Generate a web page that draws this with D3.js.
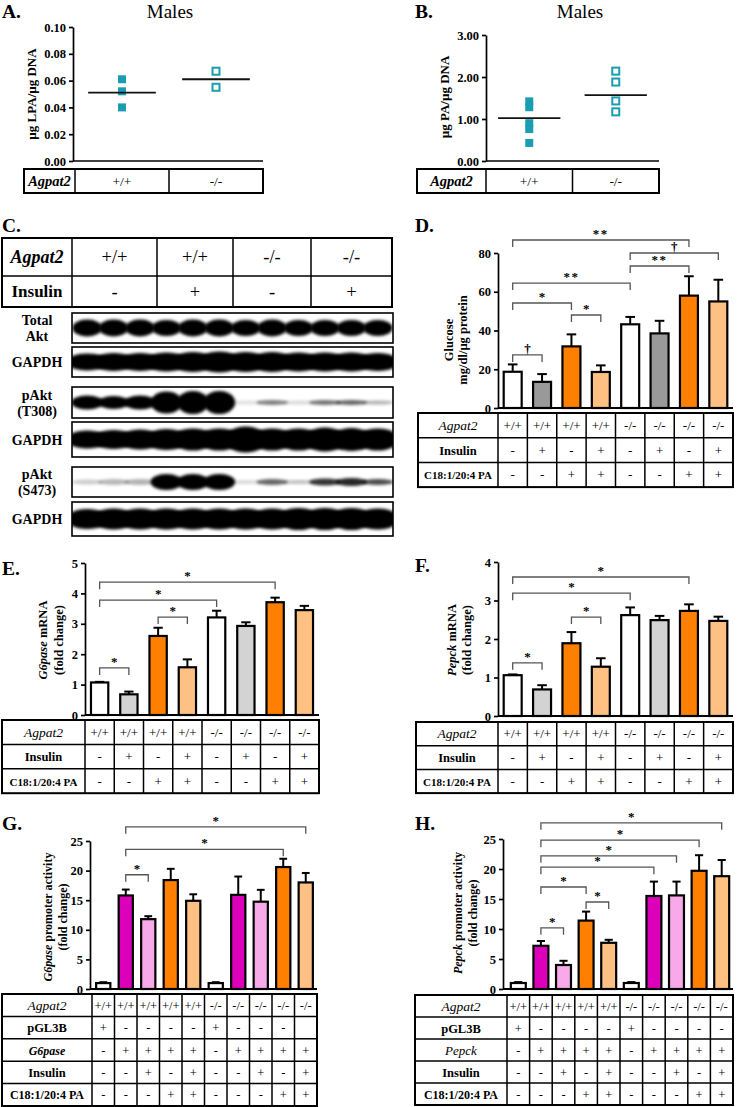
<!DOCTYPE html>
<html>
<head>
<meta charset="utf-8">
<script src="https://cdn.jsdelivr.net/npm/d3@7"></script>
<style>
  body { margin: 0; background: #fff; }
  text { font-family: "Liberation Serif", "Times New Roman", serif; fill: #000; }
</style>
</head>
<body>
<script>
// ---- data: A / B (males, lipid per DNA)
const genotypes = ["+/+", "-/-"];
const lpaWT = [0.061, 0.052, 0.040];
const lpaKO = [0.067, 0.055];
const lpaMean = [0.051, 0.061];
const paWT = [1.42, 1.28, 0.90, 0.76, 0.43];
const paKO = [2.14, 1.88, 1.43, 1.17];
const paMean = [1.02, 1.57];

// ---- data: C (western blot band intensity 0-1 and band thickness, 12 lanes)
const blotGroups = ["+/+", "+/+", "-/-", "-/-"];
const blotInsulin = ["-", "+", "-", "+"];
const totalAkt = [1, 1, 1, 1, 1, 1, 1, 1, 1, 1, 1, 1];
const totalAktH = [17, 17, 17, 16, 17, 17, 16, 17, 16, 16, 16, 16];
const gapdh1 = [1, 1, 1, 1, 1, 1, 1, 1, 1, 1, 1, 1];
const gapdh1H = [17, 18, 18, 19, 20, 21, 20, 20, 19, 19, 19, 18];
const pAktT308 = [1, 1, 1, 1, 1, 1, 0.12, 0.5, 0.15, 0.55, 0.6, 0.3];
const pAktT308H = [14, 13, 14, 22, 23, 23, 4, 5, 4, 5, 5, 4];
const gapdh2 = [1, 1, 1, 1, 1, 1, 1, 1, 1, 1, 1, 1];
const gapdh2H = [18, 19, 20, 21, 22, 22, 26, 22, 22, 24, 23, 22];
const pAktS473 = [0.2, 0.28, 0.3, 1, 1, 1, 0.15, 0.6, 0.25, 0.8, 0.85, 0.7];
const pAktS473H = [5, 6, 6, 16, 16, 16, 4, 6, 4, 7, 8, 6];
const gapdh3 = [1, 1, 1, 1, 1, 1, 1, 1, 1, 1, 1, 1];
const gapdh3H = [20, 21, 21, 21, 21, 21, 21, 21, 22, 22, 22, 21];

// ---- data: D / E / F (8 groups)
const genotype8 = ["+/+", "+/+", "+/+", "+/+", "-/-", "-/-", "-/-", "-/-"];
const insulin8 = ["-", "+", "-", "+", "-", "+", "-", "+"];
const pa8 = ["-", "-", "+", "+", "-", "-", "+", "+"];
const glucose = [18.7, 13.5, 31.8, 18.6, 43.2, 38.5, 58.0, 55.0];
const glucoseSem = [3.8, 4.0, 6.2, 3.4, 3.8, 6.5, 10.0, 11.2];
const g6paseMrna = [1.07, 0.68, 2.60, 1.57, 3.21, 2.93, 3.71, 3.45];
const g6paseMrnaSem = [0.02, 0.09, 0.27, 0.26, 0.22, 0.12, 0.15, 0.14];
const pepckMrna = [1.06, 0.69, 1.89, 1.28, 2.62, 2.49, 2.73, 2.47];
const pepckMrnaSem = [0.02, 0.11, 0.29, 0.22, 0.20, 0.11, 0.17, 0.11];

// ---- data: G / H (10 groups)
const genotype10 = ["+/+", "+/+", "+/+", "+/+", "+/+", "-/-", "-/-", "-/-", "-/-", "-/-"];
const pgl3bG = ["+", "-", "-", "-", "-", "+", "-", "-", "-", ""];
const pgl3bH = ["+", "-", "-", "-", "-", "+", "-", "-", "-", "-"];
const promoter10 = ["-", "+", "+", "+", "+", "-", "+", "+", "+", "+"];
const insulin10 = ["-", "-", "+", "-", "+", "-", "-", "+", "-", "+"];
const pa10 = ["-", "-", "-", "+", "+", "-", "-", "-", "+", "+"];
const g6pasePromoter = [1.0, 15.8, 11.8, 18.4, 14.9, 1.0, 15.9, 14.75, 20.6, 18.0];
const g6pasePromoterSem = [0.15, 1.0, 0.5, 1.9, 1.1, 0.15, 3.1, 2.0, 1.4, 1.6];
const pepckPromoter = [1.0, 7.2, 4.0, 11.4, 7.7, 1.0, 15.5, 15.6, 19.7, 18.8];
const pepckPromoterSem = [0.15, 0.8, 0.7, 1.5, 0.5, 0.15, 2.4, 2.3, 2.6, 2.7];

// significance brackets: [from, to, level (data units), label]
const bracketsD = [[0, 6, 86.7, "**"], [4, 7, 80, "†"], [4, 6, 73.3, "**"], [0, 4, 64.5, "**"],
                   [0, 2, 54.2, "*"], [2, 3, 48, "*"], [0, 1, 27.4, "†"]];
const bracketsE = [[0, 6, 4.37, "*"], [0, 4, 3.78, "*"], [2, 3, 3.22, "*"], [0, 1, 1.55, "*"]];
const bracketsF = [[0, 6, 3.61, "*"], [0, 4, 3.19, "*"], [2, 3, 2.57, "*"], [0, 1, 1.38, "*"]];
const bracketsG = [[1, 9, 27.4, "*"], [1, 8, 23.6, "*"], [1, 2, 19.3, "*"]];
const bracketsH = [[1, 9, 27.7, "*"], [1, 8, 24.8, "*"], [1, 7, 22.2, "*"], [1, 6, 20.3, "*"],
                   [1, 3, 17, "*"], [3, 4, 14.5, "*"], [1, 2, 10.2, "*"]];

const teal = "#1b9db1";
const orange = "#ff8000", lightOrange = "#ffc183";
const magenta = "#dc00ba", pink = "#f8a9e9";
const fillsD = ["#fff", "#999", orange, lightOrange, "#fff", "#999", orange, lightOrange];
const fillsEF = ["#fff", "#d3d3d3", orange, lightOrange, "#fff", "#d3d3d3", orange, lightOrange];
const fillsGH = ["#fff", magenta, pink, orange, lightOrange, "#fff", magenta, pink, orange, lightOrange];

const svg = d3.select("body").append("svg")
    .attr("width", 737)
    .attr("height", 1107);

svg.append("defs").append("filter")
    .attr("id", "blur")
    .attr("x", "-20%").attr("y", "-50%").attr("width", "140%").attr("height", "200%")
  .append("feGaussianBlur")
    .attr("stdDeviation", 1.6);

function letter(txt, x, y) {
  svg.append("text").attr("x", x).attr("y", y)
    .attr("font-size", 19.5).attr("font-weight", "bold").text(txt);
}

// rotated axis title; lines = [[[text, italic], ...], ...]
function yTitle(x, y, lines, size, gap) {
  const t = svg.append("text")
    .attr("transform", `translate(${x},${y}) rotate(-90)`)
    .attr("text-anchor", "middle")
    .attr("font-size", size).attr("font-weight", "bold");
  lines.forEach((parts, li) => {
    parts.forEach((p, pi) => {
      const s = t.append("tspan").text(p[0]);
      if (pi === 0) s.attr("x", 0).attr("dy", li === 0 ? 0 : gap);
      if (p[1]) s.attr("font-style", "italic");
    });
  });
}

function styleAxis(ax) {
  ax.select(".domain").attr("stroke-width", 1.7);
  ax.selectAll(".tick line").attr("stroke-width", 1.7);
  ax.selectAll(".tick text")
    .attr("font-family", "Liberation Serif, serif")
    .attr("font-size", 12.5).attr("font-weight", "bold").attr("fill", "#000");
}

// condition table: label column, then one column per group
function table(cfg, xCols, rows) {
  const g = svg.append("g");
  const right = xCols.range()[1];
  const h = cfg.rowH * rows.length;
  g.append("rect")
    .attr("x", cfg.left).attr("y", cfg.top)
    .attr("width", right - cfg.left).attr("height", h)
    .attr("fill", "none").attr("stroke", "#000").attr("stroke-width", 2);
  rows.forEach((r, i) => {
    if (i > 0) g.append("line")
      .attr("x1", cfg.left).attr("x2", right)
      .attr("y1", cfg.top + i * cfg.rowH).attr("y2", cfg.top + i * cfg.rowH)
      .attr("stroke", "#000").attr("stroke-width", 1.5);
    const cy = cfg.top + (i + 0.5) * cfg.rowH;
    g.append("text")
      .attr("x", (cfg.left + xCols.range()[0]) / 2).attr("y", cy + 4.5)
      .attr("text-anchor", "middle")
      .attr("font-size", r.size || 12.5)
      .attr("font-style", r.italic ? "italic" : null)
      .attr("font-weight", r.bold ? "bold" : null)
      .text(r.label);
    g.selectAll(null).data(r.values).enter().append("text")
      .attr("x", (d, j) => xCols(xCols.domain()[j]) + xCols.bandwidth() / 2)
      .attr("y", cy + 4.5)
      .attr("text-anchor", "middle")
      .attr("font-size", cfg.valueSize || 13)
      .text(d => d);
  });
  g.selectAll(null).data([xCols.range()[0]].concat(xCols.domain().slice(1).map(d => xCols(d))))
    .enter().append("line")
      .attr("x1", d => d).attr("x2", d => d)
      .attr("y1", cfg.top).attr("y2", cfg.top + h)
      .attr("stroke", "#000").attr("stroke-width", 1.5);
}

// ---------- A / B: dot plots ----------
function dotPanel(cfg) {
  const y = d3.scaleLinear().domain([0, cfg.max]).range([cfg.yBottom, cfg.yTop]);
  const xCols = d3.scaleBand().domain(genotypes).range([cfg.x0, cfg.x1]);
  const ax = svg.append("g").attr("transform", `translate(${cfg.axisX},0)`)
    .call(d3.axisLeft(y).tickValues(cfg.ticks).tickFormat(d3.format(".2f")).tickSize(4).tickSizeOuter(0));
  styleAxis(ax);
  svg.append("line")
    .attr("x1", cfg.axisX).attr("x2", cfg.x1)
    .attr("y1", cfg.yBottom).attr("y2", cfg.yBottom)
    .attr("stroke", "#000").attr("stroke-width", 1.7);

  const cx = g => xCols(g) + xCols.bandwidth() / 2;
  svg.selectAll(null).data(cfg.wt).enter().append("rect")
    .attr("x", cx("+/+") - 4).attr("y", d => y(d) - 4)
    .attr("width", 8).attr("height", 8)
    .attr("fill", teal);
  svg.selectAll(null).data(cfg.ko).enter().append("rect")
    .attr("x", cx("-/-") - 3.5).attr("y", d => y(d) - 3.5)
    .attr("width", 7).attr("height", 7)
    .attr("fill", "#fff").attr("stroke", teal).attr("stroke-width", 2);
  svg.selectAll(null).data(cfg.mean).enter().append("line")
    .attr("x1", (d, i) => cx(genotypes[i]) - xCols.bandwidth() * 0.36)
    .attr("x2", (d, i) => cx(genotypes[i]) + xCols.bandwidth() * 0.36)
    .attr("y1", d => y(d)).attr("y2", d => y(d))
    .attr("stroke", "#111").attr("stroke-width", 1.8);

  svg.append("text").attr("x", cfg.titleX).attr("y", 18)
    .attr("text-anchor", "middle").attr("font-size", 19).text("Males");
  yTitle(cfg.labelX, cfg.labelY, [[[cfg.label, false]]], 13, 0);
  table({ left: cfg.tableLeft, top: 169, rowH: 24, valueSize: 13.5 }, xCols,
        [{ label: "Agpat2", italic: true, bold: true, size: 14.5, values: genotypes }]);
}

letter("A.", 2, 17.5);
dotPanel({ max: 0.10, ticks: d3.range(0, 0.101, 0.02), yTop: 27, yBottom: 161, axisX: 73,
           x0: 75, x1: 263, tableLeft: 24, wt: lpaWT, ko: lpaKO, mean: lpaMean,
           titleX: 170, label: "µg LPA/µg DNA", labelX: 36, labelY: 94 });
letter("B.", 415, 18);
dotPanel({ max: 3, ticks: [0, 1, 2, 3], yTop: 35, yBottom: 161, axisX: 486,
           x0: 486, x1: 659, tableLeft: 417, wt: paWT, ko: paKO, mean: paMean,
           titleX: 580, label: "µg PA/µg DNA", labelX: 449, labelY: 97 });

// ---------- C: western blot ----------
letter("C.", 2, 232);
(function () {
  const top = 238, rowH = [38, 31];
  const colX = [72, 157, 233, 311, 392];
  const g = svg.append("g");
  g.append("rect").attr("x", 2).attr("y", top).attr("width", 390).attr("height", rowH[0] + rowH[1])
    .attr("fill", "none").attr("stroke", "#000").attr("stroke-width", 2);
  g.append("line").attr("x1", 2).attr("x2", 392).attr("y1", top + rowH[0]).attr("y2", top + rowH[0])
    .attr("stroke", "#000").attr("stroke-width", 1.5);
  g.selectAll(null).data(colX.slice(0, 4)).enter().append("line")
    .attr("x1", d => d).attr("x2", d => d).attr("y1", top).attr("y2", top + rowH[0] + rowH[1])
    .attr("stroke", "#000").attr("stroke-width", 1.5);
  g.append("text").attr("x", 37).attr("y", top + 25).attr("text-anchor", "middle")
    .attr("font-size", 18).attr("font-weight", "bold").attr("font-style", "italic").text("Agpat2");
  g.append("text").attr("x", 37).attr("y", top + rowH[0] + 21).attr("text-anchor", "middle")
    .attr("font-size", 17).attr("font-weight", "bold").text("Insulin");
  g.selectAll(null).data(blotGroups).enter().append("text")
    .attr("x", (d, i) => (colX[i] + colX[i + 1]) / 2).attr("y", top + 25)
    .attr("text-anchor", "middle").attr("font-size", 18.5).text(d => d);
  g.selectAll(null).data(blotInsulin).enter().append("text")
    .attr("x", (d, i) => (colX[i] + colX[i + 1]) / 2).attr("y", top + rowH[0] + 22)
    .attr("text-anchor", "middle").attr("font-size", 18.5).text(d => d);

  const xLane = d3.scaleBand().domain(d3.range(12)).range([74, 391]);
  const blots = [
    { label: ["Total", "Akt"], y0: 313, y1: 343, v: totalAkt, h: totalAktH, spread: 0.56 },
    { label: ["GAPDH"], y0: 347, y1: 377, v: gapdh1, h: gapdh1H, spread: 0.8 },
    { label: ["pAkt", "(T308)"], y0: 387, y1: 418, v: pAktT308, h: pAktT308H, spread: 0.6 },
    { label: ["GAPDH"], y0: 422, y1: 457, v: gapdh2, h: gapdh2H, spread: 0.8 },
    { label: ["pAkt", "(S473)"], y0: 467, y1: 497, v: pAktS473, h: pAktS473H, spread: 0.6 },
    { label: ["GAPDH"], y0: 502, y1: 536, v: gapdh3, h: gapdh3H, spread: 0.8 }
  ];
  blots.forEach((b, bi) => {
    const cy = (b.y0 + b.y1) / 2;
    const clipId = "clip" + bi;
    svg.append("clipPath").attr("id", clipId).append("rect")
      .attr("x", 72).attr("y", b.y0).attr("width", 321).attr("height", b.y1 - b.y0);
    const bg = svg.append("g").attr("clip-path", `url(#${clipId})`);
    bg.selectAll(null).data(b.v).enter().append("ellipse")
      .attr("cx", (d, i) => xLane(i) + xLane.bandwidth() / 2)
      .attr("cy", cy)
      .attr("rx", xLane.bandwidth() * b.spread)
      .attr("ry", (d, i) => b.h[i] / 2)
      .attr("fill", "#000")
      .attr("fill-opacity", d => d)
      .attr("filter", "url(#blur)");
    svg.append("rect").attr("x", 72).attr("y", b.y0).attr("width", 321).attr("height", b.y1 - b.y0)
      .attr("fill", "none").attr("stroke", "#000").attr("stroke-width", 1.6);
    const t = svg.append("text").attr("text-anchor", "middle")
      .attr("font-size", 14).attr("font-weight", "bold");
    b.label.forEach((l, li) => {
      t.append("tspan").attr("x", 37)
        .attr("y", cy + 5 + (b.label.length === 1 ? 0 : (li === 0 ? -8 : 8)))
        .text(l);
    });
  });
})();

// ---------- D-H: bar charts ----------
function barPanel(cfg) {
  const n = cfg.values.length;
  const idx = d3.range(n);
  const xCols = d3.scaleBand().domain(idx).range([cfg.x0, cfg.x1]);
  const xBars = d3.scaleBand().domain(idx).range([cfg.x0, cfg.x1])
    .paddingInner(cfg.pad).paddingOuter(cfg.pad / 2);
  const y = d3.scaleLinear().domain([0, cfg.max]).range([cfg.yBottom, cfg.yTop]);
  const cx = i => xBars(i) + xBars.bandwidth() / 2;

  const ax = svg.append("g").attr("transform", `translate(${cfg.axisX},0)`)
    .call(d3.axisLeft(y).tickValues(cfg.ticks).tickFormat(d3.format("d")).tickSize(4).tickSizeOuter(0));
  styleAxis(ax);

  // error bars (upper only)
  const eb = svg.append("g").attr("stroke", "#000").attr("stroke-width", 2);
  eb.selectAll(null).data(cfg.values).enter().append("line")
    .attr("x1", (d, i) => cx(i)).attr("x2", (d, i) => cx(i))
    .attr("y1", d => y(d)).attr("y2", (d, i) => y(d + cfg.sem[i]));
  eb.selectAll(null).data(cfg.values).enter().append("line")
    .attr("x1", (d, i) => cx(i) - xBars.bandwidth() * 0.24)
    .attr("x2", (d, i) => cx(i) + xBars.bandwidth() * 0.24)
    .attr("y1", (d, i) => y(d + cfg.sem[i])).attr("y2", (d, i) => y(d + cfg.sem[i]));

  svg.selectAll(null).data(cfg.values).enter().append("rect")
    .attr("x", (d, i) => xBars(i) + 1)
    .attr("y", d => y(d))
    .attr("width", xBars.bandwidth() - 2)
    .attr("height", d => cfg.yBottom - y(d))
    .attr("fill", (d, i) => cfg.fills[i])
    .attr("stroke", "#000").attr("stroke-width", 2.2);

  svg.append("line")
    .attr("x1", cfg.axisX).attr("x2", cfg.x1)
    .attr("y1", cfg.yBottom).attr("y2", cfg.yBottom)
    .attr("stroke", "#000").attr("stroke-width", 1.8);

  // significance brackets
  const br = svg.append("g");
  cfg.brackets.forEach(([a, b, lvl, lab]) => {
    const yy = y(lvl);
    br.append("path")
      .attr("d", `M${cx(a)},${yy + 7}V${yy}H${cx(b)}V${yy + 7}`)
      .attr("fill", "none").attr("stroke", "#555").attr("stroke-width", 1.3);
    br.append("text")
      .attr("x", (cx(a) + cx(b)) / 2).attr("y", yy - 2)
      .attr("text-anchor", "middle").attr("font-size", 13)
      .attr("letter-spacing", lab === "**" ? 1.5 : null)
      .attr("font-weight", "bold")
      .text(lab);
  });

  yTitle(cfg.labelX, cfg.labelY, cfg.label, cfg.labelSize || 12.5, cfg.labelGap || 15);
  table(cfg.table, xCols, cfg.rows);
}

const rows8 = [
  { label: "Agpat2", italic: true, size: 13.5, values: genotype8 },
  { label: "Insulin", bold: true, values: insulin8 },
  { label: "C18:1/20:4 PA", bold: true, size: 11, values: pa8 }
];

letter("D.", 415, 232);
barPanel({ values: glucose, sem: glucoseSem, fills: fillsD, brackets: bracketsD,
           max: 80, ticks: [0, 20, 40, 60, 80], axisX: 498, x0: 498, x1: 733, yTop: 253, yBottom: 408, pad: 0.32,
           label: [[["Glucose", false]], [["mg/dl/µg protein", false]]], labelX: 453, labelY: 340, labelGap: 13.5,
           table: { left: 418, top: 413, rowH: 24.7 }, rows: rows8 });

letter("E.", 2, 575);
barPanel({ values: g6paseMrna, sem: g6paseMrnaSem, fills: fillsEF, brackets: bracketsE,
           max: 5, ticks: [0, 1, 2, 3, 4, 5], axisX: 85, x0: 85, x1: 319, yTop: 563, yBottom: 715, pad: 0.34,
           label: [[["G6pase", true], [" mRNA", false]], [["(fold change)", false]]], labelX: 47, labelY: 640, labelGap: 16,
           table: { left: 2, top: 720, rowH: 24.4 }, rows: rows8 });

letter("F.", 415, 572);
barPanel({ values: pepckMrna, sem: pepckMrnaSem, fills: fillsEF, brackets: bracketsF,
           max: 4, ticks: [0, 1, 2, 3, 4], axisX: 498, x0: 498, x1: 733, yTop: 562, yBottom: 716, pad: 0.32,
           label: [[["Pepck", true], [" mRNA", false]], [["(fold change)", false]]], labelX: 456, labelY: 640,
           table: { left: 416, top: 722, rowH: 23.7 }, rows: rows8 });

letter("G.", 2, 830);
barPanel({ values: g6pasePromoter, sem: g6pasePromoterSem, fills: fillsGH, brackets: bracketsG,
           max: 25, ticks: [0, 5, 10, 15, 20, 25], axisX: 90, x0: 92, x1: 317, yTop: 841, yBottom: 989, pad: 0.28,
           label: [[["G6pase", true], [" promoter activity", false]], [["(fold change)", false]]], labelX: 52, labelY: 917, labelSize: 12,
           table: { left: 2, top: 994, rowH: 22.4, valueSize: 12.5 },
           rows: [
             { label: "Agpat2", italic: true, size: 13.5, values: genotype10 },
             { label: "pGL3B", bold: true, values: pgl3bG },
             { label: "G6pase", italic: true, bold: true, size: 12, values: promoter10 },
             { label: "Insulin", bold: true, values: insulin10 },
             { label: "C18:1/20:4 PA", bold: true, size: 12, values: pa10 }
           ] });

letter("H.", 415, 830);
barPanel({ values: pepckPromoter, sem: pepckPromoterSem, fills: fillsGH, brackets: bracketsH,
           max: 25, ticks: [0, 5, 10, 15, 20, 25], axisX: 503, x0: 507, x1: 733, yTop: 839, yBottom: 989, pad: 0.25,
           label: [[["Pepck", true], [" promoter activity", false]], [["(fold change)", false]]], labelX: 462, labelY: 913, labelSize: 12,
           table: { left: 415, top: 995, rowH: 22, valueSize: 12.5 },
           rows: [
             { label: "Agpat2", italic: true, size: 13.5, values: genotype10 },
             { label: "pGL3B", bold: true, values: pgl3bH },
             { label: "Pepck", italic: true, size: 13, values: promoter10 },
             { label: "Insulin", bold: true, values: insulin10 },
             { label: "C18:1/20:4 PA", bold: true, size: 12, values: pa10 }
           ] });
</script>
</body>
</html>
